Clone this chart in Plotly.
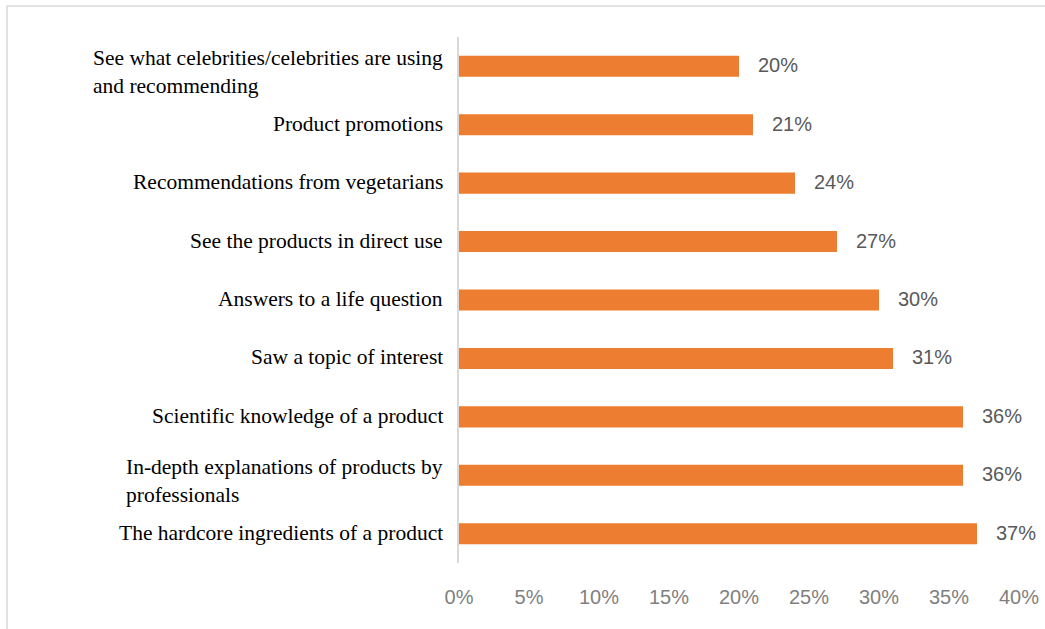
import plotly.graph_objects as go

# Survey answers, listed top to bottom as displayed
categories = [
    "See what celebrities/celebrities are using<br>and recommending",
    "Product promotions",
    "Recommendations from vegetarians",
    "See the products in direct use",
    "Answers to a life question",
    "Saw a topic of interest",
    "Scientific knowledge of a product",
    "In-depth explanations of products by<br>professionals",
    "The hardcore ingredients of a product",
]
shares = [20, 21, 24, 27, 30, 31, 36, 36, 37]
tick_values = [0, 5, 10, 15, 20, 25, 30, 35, 40]
tick_labels = [f"{v}%" for v in tick_values]

W, H = 1045, 629
ML, MR, MT, MB = 459, 26, 37, 66
PW, PH = W - ML - MR, H - MT - MB

ids = list(range(len(categories)))

fig = go.Figure(
    go.Bar(
        x=shares,
        y=ids,
        orientation="h",
        marker=dict(color="#ED7D31", line=dict(width=0)),
        width=0.36,
        hoverinfo="skip",
    )
)

# Category labels, left-aligned within their block and set against the axis
for i, label in zip(ids, categories):
    wrapped = "<br>" in label
    fig.add_annotation(
        x=0, y=i, xref="x", yref="y",
        text=label, showarrow=False,
        xanchor="right", yanchor="middle", align="left",
        xshift=-14, yshift=-6 if wrapped else 1,
        font=dict(family="Liberation Serif, Times New Roman, serif", size=21.5, color="#000000"),
    )

# Value labels to the right of each bar
for i, v in zip(ids, shares):
    fig.add_annotation(
        x=v, y=i, xref="x", yref="y",
        text=f"{v}%", showarrow=False,
        xanchor="left", yanchor="middle", xshift=17, yshift=1,
        font=dict(family="Liberation Sans, Arial, sans-serif", size=20, color="#595959"),
    )

# Light frame around the chart area
fig.add_shape(
    type="rect", xref="paper", yref="paper",
    x0=(7 - ML) / PW, x1=(W + 20 - ML) / PW,
    y0=-(H + 20 - MT - PH) / PH, y1=1 + (MT - 6) / PH,
    line=dict(color="#D9D9D9", width=1.5), fillcolor="rgba(0,0,0,0)",
    layer="below",
)

fig.update_layout(
    width=W, height=H,
    margin=dict(l=ML, r=MR, t=MT, b=MB, autoexpand=False),
    paper_bgcolor="white", plot_bgcolor="white",
    showlegend=False,
    xaxis=dict(
        range=[0, 40], tickvals=tick_values, ticktext=tick_labels,
        showgrid=False, zeroline=False, showline=False, ticks="",
        tickfont=dict(family="Liberation Sans, Arial, sans-serif", size=20, color="#7F7F7F"),
        ticklabelstandoff=20, fixedrange=True,
    ),
    yaxis=dict(
        range=[len(categories) - 0.5, -0.5],
        showticklabels=False, showgrid=False, zeroline=False,
        showline=True, linecolor="#D9D9D9", linewidth=2, ticks="",
        fixedrange=True,
    ),
)

fig.write_html("out.html")
